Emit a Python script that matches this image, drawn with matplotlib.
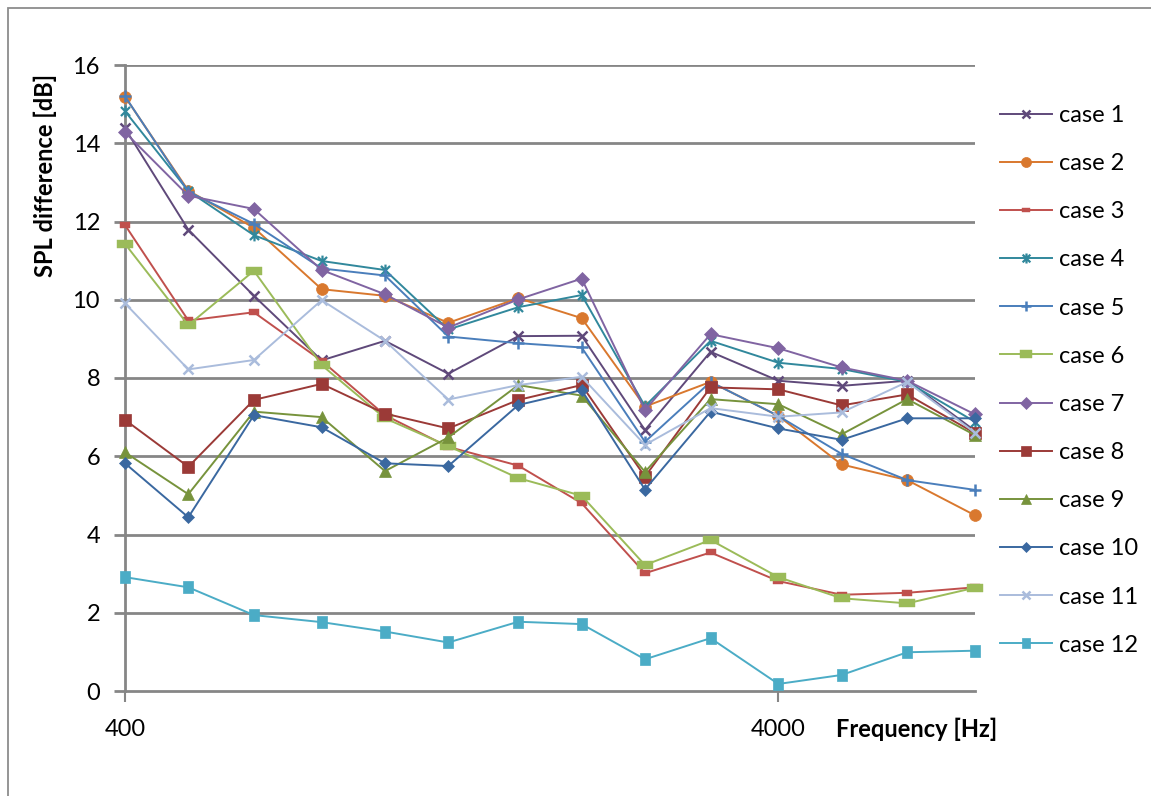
import matplotlib
matplotlib.use("Agg")
import matplotlib.pyplot as plt
from matplotlib.path import Path
from matplotlib.patches import Rectangle

plt.rcParams['font.family'] = ['Lato', 'DejaVu Sans']

# 1/3-octave band centre frequencies [Hz]
freqs = [400, 500, 630, 800, 1000, 1250, 1600, 2000, 2500, 3150, 4000, 5000, 6300, 8000]

case_1 = [14.38, 11.79, 10.10, 8.45, 8.95, 8.11, 9.07, 9.08, 6.67, 8.67, 7.93, 7.80, 7.93, 6.65]
case_2 = [15.19, 12.79, 11.84, 10.27, 10.10, 9.41, 10.04, 9.53, 7.27, 7.90, 7.03, 5.79, 5.39, 4.49]
case_3 = [11.91, 9.47, 9.68, 8.44, 7.05, 6.24, 5.76, 4.80, 3.01, 3.54, 2.81, 2.46, 2.51, 2.65]
case_4 = [14.82, 12.78, 11.65, 10.99, 10.76, 9.24, 9.81, 10.12, 7.28, 8.95, 8.39, 8.23, 7.90, 6.88]
case_5 = [15.20, 12.76, 11.94, 10.80, 10.62, 9.06, 8.89, 8.78, 6.37, 7.90, 7.03, 6.06, 5.39, 5.14]
case_6 = [11.43, 9.35, 10.74, 8.33, 6.97, 6.26, 5.44, 4.99, 3.22, 3.86, 2.91, 2.37, 2.24, 2.64]
case_7 = [14.28, 12.66, 12.32, 10.76, 10.14, 9.29, 10.01, 10.54, 7.18, 9.12, 8.76, 8.27, 7.93, 7.07]
case_8 = [6.93, 5.73, 7.44, 7.85, 7.09, 6.71, 7.44, 7.82, 5.48, 7.76, 7.71, 7.30, 7.58, 6.59]
case_9 = [6.10, 5.03, 7.14, 7.00, 5.62, 6.48, 7.82, 7.55, 5.60, 7.46, 7.33, 6.56, 7.46, 6.54]
case_10 = [5.82, 4.44, 7.05, 6.74, 5.82, 5.75, 7.31, 7.69, 5.15, 7.14, 6.71, 6.42, 6.97, 6.97]
case_11 = [9.91, 8.22, 8.46, 9.99, 8.95, 7.45, 7.82, 8.03, 6.29, 7.23, 7.01, 7.12, 7.90, 6.60]
case_12 = [2.91, 2.65, 1.94, 1.76, 1.52, 1.24, 1.77, 1.71, 0.81, 1.35, 0.18, 0.41, 0.99, 1.03]

series_names = ["case 1", "case 2", "case 3", "case 4", "case 5", "case 6",
                "case 7", "case 8", "case 9", "case 10", "case 11", "case 12"]
series_values = [case_1, case_2, case_3, case_4, case_5, case_6,
                 case_7, case_8, case_9, case_10, case_11, case_12]

# asterisk marker: an x with a vertical stroke through it
asterisk = Path([(-1, -1), (1, 1), (-1, 1), (1, -1), (0, -1.3), (0, 1.3)],
                [Path.MOVETO, Path.LINETO, Path.MOVETO, Path.LINETO, Path.MOVETO, Path.LINETO])
# flat bars used as "dash" markers
small_bar = Path([(-1, -0.55), (1, -0.55), (1, 0.55), (-1, 0.55), (-1, -0.55)],
                 [Path.MOVETO, Path.LINETO, Path.LINETO, Path.LINETO, Path.CLOSEPOLY])
square_tall = Path([(-0.8, -1), (0.8, -1), (0.8, 1), (-0.8, 1), (-0.8, -1)],
                   [Path.MOVETO, Path.LINETO, Path.LINETO, Path.LINETO, Path.CLOSEPOLY])

styles = [
    dict(color='#5f497a', marker='x', ms=7, mew=1.8),
    dict(color='#d9782e', marker='o', ms=8.5, mew=0.5),
    dict(color='#c0504d', marker=small_bar, ms=7, mew=0.3),
    dict(color='#31889c', marker=asterisk, ms=8.5, mew=1.6, mfc='none'),
    dict(color='#4a7ebb', marker='+', ms=8, mew=1.8),
    dict(color='#9bbb59', marker=small_bar, ms=11, mew=0.3),
    dict(color='#8064a2', marker='D', ms=7, mew=0.5),
    dict(color='#9b3a37', marker='s', ms=9, mew=0.5),
    dict(color='#77933c', marker='^', ms=9, mew=0.5),
    dict(color='#3a68a0', marker='D', ms=6.5, mew=0.5),
    dict(color='#aabcdc', marker='x', ms=7.5, mew=1.8),
    dict(color='#4bacc6', marker=square_tall, ms=9, mew=0.5),
]

FS = 17

W, H = 1151, 796
fig = plt.figure(figsize=(W / 100, H / 100), dpi=100)

def fx(px):
    return px / W

def fy(py):
    return 1 - py / H

# outer chart frame
fig.patches.append(Rectangle((fx(8), fy(800)), fx(1160) - fx(8), fy(8) - fy(800),
                             transform=fig.transFigure, fill=False,
                             edgecolor='#8c8c8c', lw=1.3, zorder=0))

ax = fig.add_axes([fx(125), fy(691), fx(975) - fx(125), fy(65) - fy(691)])
ax.set_xscale('log')
ax.set_xlim(400, 8000)
ax.set_ylim(0, 16)

grid_color = '#868686'
for v in range(2, 17, 2):
    ax.axhline(v, color=grid_color, lw=2.0, zorder=1)

for name, vals, st in zip(series_names, series_values, styles):
    c = st['color']
    ax.plot(freqs, vals, color=c, lw=1.4, marker=st['marker'], ms=st['ms'],
            mew=st['mew'], mec=c, mfc=st.get('mfc', c), label=name, zorder=3,
            clip_on=False)

for side in ['top', 'right']:
    ax.spines[side].set_visible(False)
ax.spines['left'].set_color(grid_color)
ax.spines['left'].set_linewidth(2.0)
ax.spines['bottom'].set_color(grid_color)
ax.spines['bottom'].set_linewidth(2.0)

ax.set_yticks(range(0, 17, 2))
ax.set_yticklabels([str(v) for v in range(0, 17, 2)], fontsize=FS)
ax.tick_params(axis='y', length=8, width=2.0, color=grid_color, pad=10)

ax.xaxis.set_minor_locator(matplotlib.ticker.NullLocator())
ax.set_xticks([400, 4000])
ax.set_xticklabels(['400', '4000'], fontsize=FS)
ax.tick_params(axis='x', length=8, width=1.5, color=grid_color, pad=12)

fig.text(fx(45), fy(175), 'SPL difference [dB]', rotation=90, fontsize=FS,
         fontweight='bold', ha='center', va='center')
fig.text(fx(836), fy(729), 'Frequency [Hz]', fontsize=FS, fontweight='bold',
         ha='left', va='center')

# legend on the right, one row per case
handles, labels = ax.get_legend_handles_labels()
leg = fig.legend(handles, labels, loc='upper left',
                 bbox_to_anchor=(fx(1000), fy(105)), frameon=False,
                 fontsize=FS, handlelength=2.2, handletextpad=0.3,
                 labelspacing=1.15, borderaxespad=0, borderpad=0)
for h in leg.legend_handles:
    h.set_markersize(h.get_markersize() * 0.85)

fig.savefig('out.png', dpi=100, facecolor='white')
